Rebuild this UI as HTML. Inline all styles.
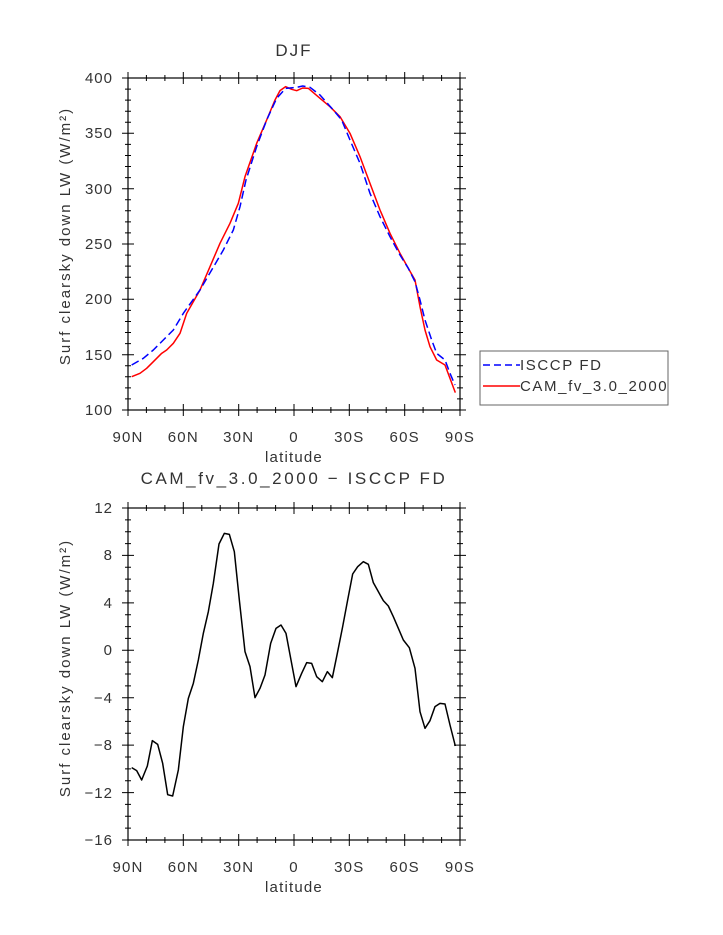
<!DOCTYPE html>
<html><head><style>body{margin:0;background:#fff}svg{display:block}text{font-family:"Liberation Sans",sans-serif;fill:#333}</style></head>
<body>
<svg width="723" height="935" viewBox="0 0 723 935" xmlns="http://www.w3.org/2000/svg">
<g stroke="#000" stroke-width="1.2" fill="none">
<rect x="128" y="78" width="332" height="332"/>
<rect x="128" y="508" width="332" height="332"/>
</g>
<g id="ticks" stroke="#000" stroke-width="1">
<path d="M128,72V84M183.3,72V84M238.7,72V84M294,72V84M349.3,72V84M404.7,72V84M460,72V84
M128,404V416M183.3,404V416M238.7,404V416M294,404V416M349.3,404V416M404.7,404V416M460,404V416
M146.4,75V81M164.9,75V81M201.8,75V81M220.2,75V81M257.1,75V81M275.6,75V81M312.4,75V81M330.9,75V81M367.8,75V81M386.2,75V81M423.1,75V81M441.6,75V81
M146.4,407V413M164.9,407V413M201.8,407V413M220.2,407V413M257.1,407V413M275.6,407V413M312.4,407V413M330.9,407V413M367.8,407V413M386.2,407V413M423.1,407V413M441.6,407V413"/>
<path d="M122,78H134M122,133.3H134M122,188.7H134M122,244H134M122,299.3H134M122,354.7H134M122,410H134
M454,78H466M454,133.3H466M454,188.7H466M454,244H466M454,299.3H466M454,354.7H466M454,410H466
M125,89.1H131M125,100.1H131M125,111.2H131M125,122.3H131M125,144.4H131M125,155.5H131M125,166.5H131M125,177.6H131M125,199.7H131M125,210.8H131M125,221.9H131M125,232.9H131M125,255.1H131M125,266.1H131M125,277.2H131M125,288.3H131M125,310.4H131M125,321.5H131M125,332.5H131M125,343.6H131M125,365.7H131M125,376.8H131M125,387.9H131M125,398.9H131
M457,89.1H463M457,100.1H463M457,111.2H463M457,122.3H463M457,144.4H463M457,155.5H463M457,166.5H463M457,177.6H463M457,199.7H463M457,210.8H463M457,221.9H463M457,232.9H463M457,255.1H463M457,266.1H463M457,277.2H463M457,288.3H463M457,310.4H463M457,321.5H463M457,332.5H463M457,343.6H463M457,365.7H463M457,376.8H463M457,387.9H463M457,398.9H463"/>
<path d="M128,502V514M183.3,502V514M238.7,502V514M294,502V514M349.3,502V514M404.7,502V514M460,502V514
M128,834V846M183.3,834V846M238.7,834V846M294,834V846M349.3,834V846M404.7,834V846M460,834V846
M146.4,505V511M164.9,505V511M201.8,505V511M220.2,505V511M257.1,505V511M275.6,505V511M312.4,505V511M330.9,505V511M367.8,505V511M386.2,505V511M423.1,505V511M441.6,505V511
M146.4,837V843M164.9,837V843M201.8,837V843M220.2,837V843M257.1,837V843M275.6,837V843M312.4,837V843M330.9,837V843M367.8,837V843M386.2,837V843M423.1,837V843M441.6,837V843"/>
<path d="M122,508H134M122,555.4H134M122,602.9H134M122,650.3H134M122,697.7H134M122,745.1H134M122,792.6H134M122,840H134
M454,508H466M454,555.4H466M454,602.9H466M454,650.3H466M454,697.7H466M454,745.1H466M454,792.6H466M454,840H466
M125,519.9H131M125,531.7H131M125,543.6H131M125,567.3H131M125,579.1H131M125,591H131M125,614.7H131M125,626.6H131M125,638.4H131M125,662.1H131M125,674H131M125,685.9H131M125,709.6H131M125,721.4H131M125,733.3H131M125,757H131M125,768.9H131M125,780.7H131M125,804.4H131M125,816.3H131M125,828.1H131
M457,519.9H463M457,531.7H463M457,543.6H463M457,567.3H463M457,579.1H463M457,591H463M457,614.7H463M457,626.6H463M457,638.4H463M457,662.1H463M457,674H463M457,685.9H463M457,709.6H463M457,721.4H463M457,733.3H463M457,757H463M457,768.9H463M457,780.7H463M457,804.4H463M457,816.3H463M457,828.1H463"/>
</g>
<g transform="translate(120,60) scale(0.33333)" fill="none" stroke-width="4.5" stroke-linejoin="round">
<polyline stroke="#f00" points="35,950 60,940 80,925 100,905 125,880 140,870 160,850 180,820 200,760 240,690 270,620 300,550 330,490 355,430 375,350 410,250 440,180 465,120 480,92 497,80 515,88 530,92 548,84 565,85 600,115 630,140 660,170 690,220 720,290 750,370 780,450 810,520 840,580 865,625 885,660 900,740 915,810 930,860 950,900 975,915 990,955 1006,998"/>
<polyline stroke="#00f" stroke-dasharray="24,12" points="35,915 70,895 100,870 130,840 160,810 190,760 215,725 240,690 275,630 310,570 340,510 360,440 378,360 410,260 440,180 470,115 497,85 530,82 548,78 570,82 600,105 640,150 665,180 690,240 720,310 750,400 780,470 810,530 840,585 865,625 885,665 900,720 915,780 935,840 950,880 975,900 990,940 1005,975"/>
</g>
<g transform="translate(120,500) scale(0.33333)" fill="none" stroke-width="4.5" stroke-linejoin="round">
<polyline stroke="#000" points="35,803 50,812 65,840 82,798 97,722 113,733 128,790 143,884 158,888 175,810 190,680 205,595 220,550 235,480 250,400 265,335 280,250 297,132 313,100 328,103 343,155 358,300 375,455 390,500 405,593 420,565 435,525 452,430 468,385 483,375 498,400 513,480 528,560 545,520 560,488 575,490 590,530 607,545 622,515 637,533 652,460 668,380 683,300 698,222 713,200 730,185 745,193 760,248 775,275 790,302 805,318 820,350 835,385 850,420 868,443 885,505 900,635 915,685 930,662 945,620 960,610 975,612 990,675 1006,738"/>
</g>
<rect x="480" y="351" width="188" height="54" fill="none" stroke="#666" stroke-width="1"/>
<line x1="483" y1="365" x2="520" y2="365" stroke="#00f" stroke-width="1.5" stroke-dasharray="7,4"/>
<line x1="483" y1="386" x2="520" y2="386" stroke="#f00" stroke-width="1.5"/>
<text x="520" y="370" font-size="15" letter-spacing="1.6">ISCCP FD</text>
<text x="520" y="391" font-size="15" letter-spacing="1.6">CAM_fv_3.0_2000</text>
<g font-size="15" text-anchor="middle" letter-spacing="1.2">
<text x="294" y="56" font-size="17" letter-spacing="2">DJF</text>
<text x="294" y="484" font-size="17" letter-spacing="2.6">CAM_fv_3.0_2000 − ISCCP FD</text>
<text x="294" y="462">latitude</text>
<text x="294" y="892">latitude</text>
<text x="128" y="442">90N</text><text x="183.3" y="442">60N</text><text x="238.7" y="442">30N</text><text x="294" y="442">0</text><text x="349.3" y="442">30S</text><text x="404.7" y="442">60S</text><text x="460" y="442">90S</text>
<text x="128" y="872">90N</text><text x="183.3" y="872">60N</text><text x="238.7" y="872">30N</text><text x="294" y="872">0</text><text x="349.3" y="872">30S</text><text x="404.7" y="872">60S</text><text x="460" y="872">90S</text>
</g>
<g font-size="15" text-anchor="end" letter-spacing="1">
<text x="113" y="83">400</text><text x="113" y="138">350</text><text x="113" y="194">300</text><text x="113" y="249">250</text><text x="113" y="304">200</text><text x="113" y="360">150</text><text x="113" y="415">100</text>
<text x="113" y="513">12</text><text x="113" y="560">8</text><text x="113" y="608">4</text><text x="113" y="655">0</text><text x="113" y="703">−4</text><text x="113" y="750">−8</text><text x="113" y="798">−12</text><text x="113" y="845">−16</text>
</g>
<text transform="translate(70,236) rotate(-90)" font-size="15" letter-spacing="2" text-anchor="middle">Surf clearsky down LW (W/m²)</text>
<text transform="translate(70,668) rotate(-90)" font-size="15" letter-spacing="2" text-anchor="middle">Surf clearsky down LW (W/m²)</text>
</svg>
</body></html>
